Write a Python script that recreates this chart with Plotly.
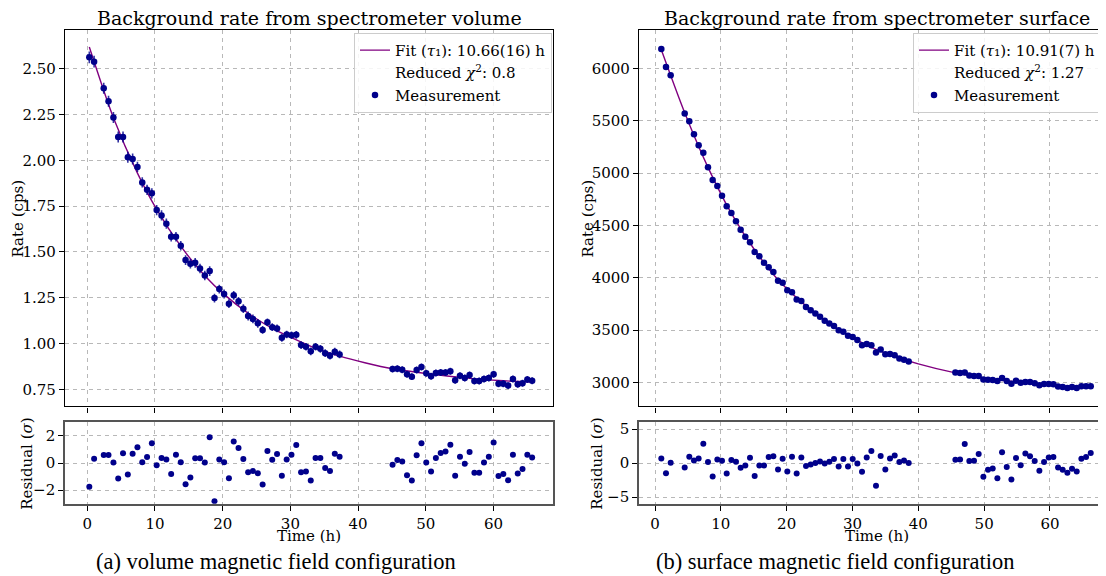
import plotly.graph_objects as go

# ---------------- data ----------------
# Left panel: volume magnetic field configuration
t_left = [0.30, 1.01, 2.43, 3.14, 3.86, 4.57, 5.28, 5.99, 6.70, 7.41, 8.12, 8.83, 9.54, 10.25,
          10.97, 11.68, 12.39, 13.10, 13.81, 14.52, 15.23, 15.94, 16.65, 17.36, 18.08, 18.79,
          19.50, 20.21, 20.92, 21.63, 22.34, 23.05, 23.76, 24.47, 25.19, 25.90, 26.61, 27.32,
          28.03, 28.74, 29.45, 30.16, 30.87, 31.58, 32.30, 33.01, 33.72, 34.43, 35.14, 35.85,
          36.56, 37.27,
          45.09, 45.80, 46.52, 47.23, 47.94, 48.65, 49.36, 50.07, 50.78, 51.49, 52.20, 52.91,
          53.63, 54.34, 55.05, 55.76, 56.47, 57.18, 57.89, 58.60, 59.31, 60.02, 60.74, 61.45,
          62.16, 62.87, 63.58, 64.29, 65.00, 65.71]
rate_left = [2.562, 2.538, 2.393, 2.322, 2.234, 2.127, 2.127, 2.016, 2.007, 1.964, 1.879, 1.839,
             1.820, 1.728, 1.699, 1.654, 1.582, 1.582, 1.533, 1.455, 1.435, 1.440, 1.409, 1.371,
             1.395, 1.248, 1.297, 1.270, 1.217, 1.263, 1.230, 1.190, 1.150, 1.134, 1.110, 1.074,
             1.116, 1.089, 1.082, 1.031, 1.049, 1.045, 1.047, 0.991, 0.982, 0.957, 0.982, 0.971,
             0.947, 0.933, 0.955, 0.940,
             0.860, 0.862, 0.857, 0.832, 0.819, 0.855, 0.871, 0.837, 0.821, 0.839, 0.842, 0.842,
             0.848, 0.799, 0.824, 0.811, 0.828, 0.795, 0.795, 0.806, 0.811, 0.832, 0.780, 0.780,
             0.770, 0.806, 0.777, 0.783, 0.803, 0.797]
err_left = [0.032, 0.032, 0.030, 0.030, 0.030, 0.030, 0.030, 0.030, 0.030, 0.028, 0.028, 0.028,
            0.028, 0.028, 0.028, 0.028, 0.026, 0.026, 0.026, 0.026, 0.026, 0.026, 0.026, 0.026,
            0.026, 0.024, 0.024, 0.024, 0.024, 0.024, 0.024, 0.024, 0.024, 0.024, 0.024, 0.021,
            0.021, 0.021, 0.021, 0.021, 0.021, 0.021, 0.021, 0.021, 0.021, 0.021, 0.021, 0.021,
            0.021, 0.021, 0.021, 0.021,
            0.019, 0.019, 0.019, 0.019, 0.019, 0.019, 0.019, 0.019, 0.019, 0.019, 0.019, 0.019,
            0.019, 0.019, 0.019, 0.019, 0.019, 0.019, 0.019, 0.019, 0.019, 0.019, 0.019, 0.019,
            0.019, 0.019, 0.019, 0.019, 0.019, 0.019]
res_left = [-1.75, 0.32, 0.59, 0.59, 0.05, -1.14, 0.72, -0.84, 0.69, 1.16, 0.07, 0.44, 1.46,
            -0.15, 0.37, 0.27, -0.81, 0.62, 0.07, -1.56, -1.06, 0.35, 0.35, 0.05, 1.90, -2.81,
            0.27, 0.07, -1.11, 1.60, 1.11, 0.30, -0.67, -0.59, -0.74, -1.58, 0.89, 0.25, 0.67,
            -0.94, 0.27, 0.62, 1.33, -0.67, -0.62, -1.28, 0.37, 0.37, -0.37, -0.59, 0.69, 0.47,
            -0.12, 0.22, 0.12, -0.89, -1.28, 0.57, 1.46, 0.05, -0.62, 0.37, 0.74, 0.86, 1.36,
            -0.94, 0.47, -0.05, 0.81, -0.72, -0.72, 0.05, 0.47, 1.51, -0.96, -0.81, -1.26, 0.62,
            -0.77, -0.44, 0.62, 0.42]
fit_t_left = [0.30, 3.86, 7.41, 10.25, 13.81, 17.36, 20.21, 23.76, 27.32, 30.16, 33.72, 37.27,
              41.0, 45.09, 50.07, 55.76, 60.74, 65.71]
fit_left = [2.618, 2.232, 1.930, 1.732, 1.531, 1.370, 1.268, 1.165, 1.083, 1.032, 0.974, 0.931,
            0.895, 0.862, 0.836, 0.812, 0.798, 0.789]
tau_left = "10.66(16)"
chi_left = "0.8"

# Right panel: surface magnetic field configuration
t_right = [0.96, 1.67, 2.38, 4.51, 5.21, 5.92, 6.63, 7.34, 8.05, 8.76, 9.47, 10.18, 10.89,
           11.60, 12.30, 13.01, 13.72, 14.43, 15.14, 15.85, 16.56, 17.27, 17.98, 18.69, 19.39,
           20.10, 20.81, 21.52, 22.23, 22.94, 23.65, 24.36, 25.07, 25.78, 26.48, 27.19, 27.90,
           28.61, 29.32, 30.03, 30.74, 31.45, 32.16, 32.87, 33.57, 34.28, 34.99, 35.70, 36.41,
           37.12, 37.83, 38.54,
           45.63, 46.34, 47.05, 47.75, 48.46, 49.17, 49.88, 50.59, 51.30, 52.01, 52.72, 53.43,
           54.14, 54.84, 55.55, 56.26, 56.97, 57.68, 58.39, 59.10, 59.81, 60.52, 61.23, 61.93,
           62.64, 63.35, 64.06, 64.77, 65.48, 66.19]
rate_right = [6187, 6016, 5936, 5570, 5497, 5371, 5266, 5196, 5057, 4934, 4877, 4785, 4683,
              4620, 4541, 4459, 4393, 4339, 4247, 4206, 4144, 4101, 4054, 3971, 3952, 3880,
              3861, 3791, 3778, 3721, 3690, 3658, 3627, 3589, 3563, 3538, 3497, 3484, 3446,
              3434, 3405, 3354, 3367, 3354, 3285, 3313, 3269, 3272, 3259, 3228, 3215, 3199,
              3095, 3088, 3095, 3066, 3060, 3060, 3028, 3025, 3022, 3012, 3041, 3012, 2987,
              3016, 2997, 3003, 3003, 2990, 2971, 2984, 2984, 2981, 2959, 2955, 2946, 2955,
              2946, 2962, 2962, 2962]
err_right = [14, 14, 14, 13, 13, 13, 13, 13, 13, 13, 13, 13, 12, 12, 12, 12, 12, 12, 12, 12,
             12, 12, 12, 11, 11, 11, 11, 11, 11, 11, 11, 11, 11, 11, 11, 11, 11, 11, 11, 11,
             11, 11, 11, 11, 11, 11, 11, 11, 11, 11, 11, 11,
             10, 10, 10, 10, 10, 10, 10, 10, 10, 10, 10, 10, 10, 10, 10, 10, 10, 10, 10, 10,
             10, 10, 10, 10, 10, 10, 10, 10, 10, 10]
res_right = [0.69, -1.48, 0.05, -0.64, 0.94, 0.39, 0.69, 2.86, 0.15, -1.97, 0.54, 0.34, -1.53,
             0.44, 0.20, -0.69, -0.34, 0.79, -1.92, -0.34, -0.34, 0.89, 0.99, -0.94, 0.64,
             -1.23, 0.94, -1.53, 0.84, -0.44, -0.20, 0.00, 0.25, -0.05, 0.20, 0.59, -0.49, 0.59,
             -0.49, 0.59, -0.05, -1.28, 0.84, 1.77, -3.35, 1.03, -0.94, 0.69, 1.13, 0.15, 0.39,
             0.00,
             0.49, 0.54, 2.81, 0.30, 0.34, 1.33, -2.02, -0.99, -0.79, -2.22, 1.58, -0.59, -2.41,
             0.74, -0.30, 1.43, 0.99, 0.30, -1.13, 0.15, 0.84, 0.89, -0.64, -0.99, -1.43, -0.84,
             -1.23, 0.64, 0.89, 1.48]
fit_t_right = [0.96, 4.51, 8.05, 11.60, 15.14, 18.69, 22.23, 25.78, 29.32, 32.87, 36.41, 40.0,
               45.63, 50.59, 56.26, 61.23, 66.19]
fit_right = [6179, 5577, 5055, 4615, 4265, 3981, 3769, 3590, 3451, 3335, 3247, 3177, 3090,
             3036, 2995, 2968, 2948]
tau_right = "10.91(7)"
chi_right = "1.27"

time_bin_half = 0.355  # horizontal error bar (half of a 0.71 h bin)

# ---------------- styling ----------------
# The page body has an 8px default margin, so the figure is 8px smaller
# and every screen coordinate is shifted by 8px.
OFF = 8
W, H = 1106 - OFF, 576 - OFF
FONT = "DejaVu Serif"
CAP_FONT = "Liberation Serif"
NAVY = "#00008b"
PURPLE = "#800080"
GRID = "#b8b8b8"


def px_x(p):
    return (p - OFF) / W


def px_y(p):
    return 1 - (p - OFF) / H


fig = go.Figure()


def add_panel(xa, ya, xr, yr, t, rate, err, res, ft, fv, tau, chi, legend):
    fig.add_trace(go.Scatter(
        x=ft, y=fv, mode="lines",
        line=dict(color=PURPLE, width=1.4, shape="spline", smoothing=0.8),
        name=f"Fit (<i>τ</i>₁): {tau} h", xaxis=xa, yaxis=ya, legend=legend,
        hoverinfo="skip"))
    fig.add_trace(go.Scatter(
        x=[None], y=[None], mode="lines", line=dict(color="rgba(0,0,0,0)"),
        name=f"Reduced <i>χ</i><sup>2</sup>: {chi}", xaxis=xa, yaxis=ya, legend=legend))
    fig.add_trace(go.Scatter(
        x=t, y=rate, mode="markers",
        marker=dict(color=NAVY, size=6.5),
        error_y=dict(type="data", array=err, color="rgba(0,0,139,0.8)", thickness=1.6, width=0),
        error_x=dict(type="constant", value=time_bin_half, color="rgba(0,0,139,0.8)",
                     thickness=1.2, width=0),
        name="Measurement", xaxis=xa, yaxis=ya, legend=legend))
    fig.add_trace(go.Scatter(
        x=t, y=res, mode="markers", marker=dict(color=NAVY, size=6),
        showlegend=False, xaxis=xr, yaxis=yr))


add_panel("x", "y", "x2", "y2", t_left, rate_left, err_left, res_left,
          fit_t_left, fit_left, tau_left, chi_left, "legend")
add_panel("x3", "y3", "x4", "y4", t_right, rate_right, err_right, res_right,
          fit_t_right, fit_right, tau_right, chi_right, "legend2")

tickfont = dict(family=FONT, size=15, color="black")
common_axis = dict(showgrid=True, gridcolor=GRID, griddash="4px,4px", gridwidth=1,
                   zeroline=False, ticks="outside", ticklen=5, tickwidth=1,
                   tickcolor="black", tickfont=tickfont, showline=True)

main_dom = [px_y(407.3), px_y(28)]
res_dom = [px_y(505.3), px_y(423.3)]
left_dom = [px_x(65), px_x(553)]
right_dom = [px_x(639), 1.0]

xr_left = [-3.29, 68.79]
xr_right = [-2.43, 68.51]

fig.update_layout(
    width=W, height=H, margin=dict(l=0, r=0, t=0, b=0),
    paper_bgcolor="white", plot_bgcolor="white",
    font=dict(family=FONT, size=15, color="black"),
    xaxis=dict(**common_axis, domain=left_dom, anchor="y", range=xr_left, dtick=10, tick0=0,
               showticklabels=False, linecolor="black", linewidth=1.3, mirror=True),
    yaxis=dict(**common_axis, domain=main_dom, anchor="x", range=[0.656, 2.712], dtick=0.25,
               tick0=0.75, tickformat=".2f", linecolor="black", linewidth=1.3, mirror=True),
    xaxis2=dict(**common_axis, domain=left_dom, anchor="y2", range=xr_left, dtick=10, tick0=0,
                linecolor="#555555", linewidth=1.6, mirror=True, ticklabelstandoff=0),
    yaxis2=dict(**common_axis, domain=res_dom, anchor="x2", range=[-3.0, 3.0], dtick=2,
                tick0=0, linecolor="#555555", linewidth=1.6, mirror=True),
    xaxis3=dict(**common_axis, domain=right_dom, anchor="y3", range=xr_right, dtick=10, tick0=0,
                showticklabels=False, linecolor="black", linewidth=1.3, mirror=True),
    yaxis3=dict(**common_axis, domain=main_dom, anchor="x3", range=[2769, 6370], dtick=500,
                tick0=3000, tickformat="d", linecolor="black", linewidth=1.3, mirror=False),
    xaxis4=dict(**common_axis, domain=right_dom, anchor="y4", range=xr_right, dtick=10, tick0=0,
                linecolor="#555555", linewidth=1.6, mirror=True, ticklabelstandoff=0),
    yaxis4=dict(**common_axis, domain=res_dom, anchor="x4", range=[-6.0, 6.0], dtick=5,
                tick0=0, linecolor="#555555", linewidth=1.6, mirror=False),
    legend=dict(x=px_x(552), xanchor="right", y=px_y(31), yanchor="top",
                bgcolor="rgba(255,255,255,0.85)", bordercolor="#cccccc", borderwidth=1,
                font=dict(family=FONT, size=15, color="black"), tracegroupgap=0),
    legend2=dict(x=px_x(1101), xanchor="right", y=px_y(31), yanchor="top",
                 bgcolor="rgba(255,255,255,0.85)", bordercolor="#cccccc", borderwidth=1,
                 font=dict(family=FONT, size=15, color="black"), tracegroupgap=0),
    showlegend=True,
)

ann = []


def add_text(text, xp, yp, size, family=FONT, angle=0):
    ann.append(dict(text=text, x=px_x(xp), y=px_y(yp), xref="paper", yref="paper",
                    xanchor="center", yanchor="middle", showarrow=False, textangle=angle,
                    borderpad=0, font=dict(family=family, size=size, color="black")))


add_text("Background rate from spectrometer volume", 309, 16, 19)
add_text("Background rate from spectrometer surface", 877, 16, 19)
add_text("Rate (cps)", 18, 218, 15, angle=-90)
add_text("Rate (cps)", 588, 218, 15, angle=-90)
add_text("Residual (<i>σ</i>)", 27, 465, 15, angle=-90)
add_text("Residual (<i>σ</i>)", 597, 465, 15, angle=-90)
add_text("Time (h)", 309, 538, 15)
add_text("Time (h)", 877, 538, 15)
add_text("(a) volume magnetic field configuration", 276, 563, 22.5, family=CAP_FONT)
add_text("(b) surface magnetic field configuration", 835, 563, 22.5, family=CAP_FONT)
fig.update_layout(annotations=ann)

fig.write_html("out.html")
